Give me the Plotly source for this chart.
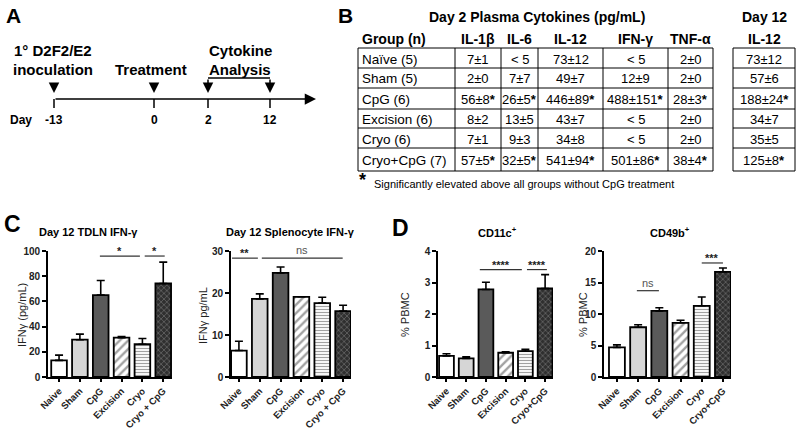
import plotly.graph_objects as go

# ---------------- data ----------------
timeline_days = [-13, 0, 2, 12]
timeline_events = ["1° D2F2/E2|inoculation", "Treatment", "Cytokine|Analysis"]

table_title = "Day 2 Plasma Cytokines (pg/mL)"
table_day12_title = "Day 12"
table_group_header = "Group (n)"
table_headers = ["IL-1β", "IL-6", "IL-12", "IFN-γ", "TNF-α"]
table_day12_header = "IL-12"
table_groups = ["Naïve (5)", "Sham (5)", "CpG (6)", "Excision (6)", "Cryo (6)", "Cryo+CpG (7)"]
il1b = ["7±1", "2±0", "56±8*", "8±2", "7±1", "57±5*"]
il6 = ["< 5", "7±7", "26±5*", "13±5", "9±3", "32±5*"]
il12 = ["73±12", "49±7", "446±89*", "43±7", "34±8", "541±94*"]
ifng = ["< 5", "12±9", "488±151*", "< 5", "< 5", "501±86*"]
tnfa = ["2±0", "2±0", "28±3*", "2±0", "2±0", "38±4*"]
il12_day12 = ["73±12", "57±6", "188±24*", "34±7", "35±5", "125±8*"]
footnote = "Significantly elevated above all groups without CpG treatment"

categories_c = ["Naive", "Sham", "CpG", "Excision", "Cryo", "Cryo + CpG"]
categories_d = ["Naive", "Sham", "CpG", "Excision", "Cryo", "Cryo+CpG"]

tdln_ifng = [13.2, 29.6, 65.0, 31.2, 26.0, 74.2]
tdln_ifng_err = [4.2, 4.4, 11.6, 1.0, 4.6, 17.0]
spleno_ifng = [6.3, 18.6, 24.8, 19.1, 17.6, 15.7]
spleno_ifng_err = [2.2, 1.2, 1.4, 0.0, 1.4, 1.4]
cd11c = [0.67, 0.59, 2.78, 0.77, 0.82, 2.81]
cd11c_err = [0.07, 0.05, 0.23, 0.03, 0.06, 0.44]
cd49b = [4.7, 7.9, 10.5, 8.6, 11.3, 16.7]
cd49b_err = [0.4, 0.4, 0.5, 0.4, 1.4, 0.6]

# significance comparisons: (from group index, to group index, level, label)
tdln_sig = [(1.96, 3.88, 96, "*"), (4.11, 5.07, 96, "*")]
spleno_sig = [(-0.33, 0.91, 28.3, "**"), (1.10, 4.98, 28.3, "ns")]
cd11c_sig = [(1.69, 3.82, 3.41, "****"), (4.08, 5.09, 3.41, "****")]
cd49b_sig = [(0.94, 1.98, 13.7, "ns"), (4.0, 5.0, 18.1, "***")]

# ---------------- helpers ----------------
W, H = 800, 429
FONT = "Liberation Sans, Arial, sans-serif"


def X(px):
    return px / W


def Y(py):
    return 1 - py / H


annotations = []
shapes = []


def text(x, y, s, size=14, bold=False, color="black", xanchor="center",
         yanchor="middle", angle=0):
    annotations.append(dict(
        x=X(x), y=Y(y), xref="paper", yref="paper", text=s, showarrow=False,
        font=dict(family=FONT, size=size, color=color,
                  weight="bold" if bold else "normal"),
        xanchor=xanchor, yanchor=yanchor, textangle=angle, borderpad=0))


def pline(x0, y0, x1, y1, width=1.0, color="black"):
    shapes.append(dict(type="line", xref="paper", yref="paper",
                       x0=X(x0), y0=Y(y0), x1=X(x1), y1=Y(y1),
                       line=dict(color=color, width=width)))


def arrow(x_tip, y_tip, dx, dy, size=1.4, width=1.5):
    annotations.append(dict(
        x=X(x_tip), y=Y(y_tip), xref="paper", yref="paper", text="",
        showarrow=True, ax=dx, ay=dy, axref="pixel", ayref="pixel",
        arrowhead=2, arrowsize=size, arrowwidth=width, arrowcolor="black"))


# ---------------- panel A: timeline schematic ----------------
text(13, 15, "A", 21, True)
tl_x = [54, 154, 208, 270]
tl_y = 99
arrow(316, tl_y, -(316 - tl_x[0]), 0, size=1.5, width=1.5)
for xp, d in zip(tl_x, timeline_days):
    pline(xp, tl_y, xp, tl_y + 9, 1.5)
    text(xp, 120, str(d), 12, True)
text(21, 120, "Day", 12, True)
arrow(tl_x[0], 93, 0, -11)
arrow(tl_x[1], 93, 0, -11)
arrow(tl_x[2], 93, 0, -15)
arrow(tl_x[3], 93, 0, -15)
pline(tl_x[2], 78, tl_x[3], 78, 1.5)
ev_x = [53, 151, 240]
for ex, ev in zip(ev_x, timeline_events):
    parts = ev.split("|")
    if len(parts) == 2:
        text(ex, 51, parts[0], 15, True)
        text(ex, 69, parts[1], 15, True)
    else:
        text(ex, 69, parts[0], 15, True)

# ---------------- panel B: cytokine table ----------------
text(345, 15, "B", 21, True)
text(537, 17, table_title, 14, True)
text(764, 17, table_day12_title, 14, True)
col_x = [358, 455, 501, 538, 603, 668, 713]
row_y = [48, 68, 88, 109, 128, 148, 171]
d12_x = [733, 795]
header_y = 39
text(361, header_y, table_group_header, 14, True, xanchor="left")
for i, h in enumerate(table_headers):
    text((col_x[i + 1] + col_x[i + 2]) / 2, header_y, h, 14, True)
text((d12_x[0] + d12_x[1]) / 2, header_y, table_day12_header, 14, True)


def cell(s):
    return s.replace("*", "<b>*</b>")


CELL = 13
columns = [il1b, il6, il12, ifng, tnfa]
for r, g in enumerate(table_groups):
    yc = (row_y[r] + row_y[r + 1]) / 2 + 1
    text(361, yc, g, CELL + 0.5, xanchor="left")
    for c, col in enumerate(columns):
        text((col_x[c + 1] + col_x[c + 2]) / 2, yc, cell(col[r]), CELL)
    text((d12_x[0] + d12_x[1]) / 2, yc, cell(il12_day12[r]), CELL)
for yy in row_y:
    pline(col_x[0], yy, col_x[-1], yy, 1)
    pline(d12_x[0], yy, d12_x[1], yy, 1)
for xx in col_x:
    pline(xx, row_y[0], xx, row_y[-1], 1)
for xx in d12_x:
    pline(xx, row_y[0], xx, row_y[-1], 1)
text(362, 180, "<b>*</b>", 18)
text(373, 184, footnote, 11, xanchor="left")

# ---------------- panels C & D: bar charts ----------------
text(12, 224, "C", 23, True)
text(400, 228, "D", 23, True)

pattern_shape = ["", "", "", "/", "-", "x"]
bar_bg = ["white", "#d6d6d6", "#5a5a5a", "white", "white", "#2f2f2f"]
pattern_fg = ["black", "black", "black", "black", "#444444", "#8a8a8a"]
pattern_size = [6, 6, 6, 6, 3, 4]
pattern_sol = [0.3, 0.3, 0.3, 0.4, 0.4, 0.2]

Y_TOP, Y_BOT = 251, 377

charts = [
    (1, categories_c, tdln_ifng, tdln_ifng_err, tdln_sig, 100, 20, (-0.53, 5.42), (48, 172),
     "Day 12 TDLN IFN-γ", 88, "IFNγ (pg/mL)", 22),
    (2, categories_c, spleno_ifng, spleno_ifng_err, spleno_sig, 30, 10, (-0.38, 5.38), (231, 351),
     "Day 12 Splenocyte IFN-γ", 290, "IFNγ pg/mL", 203),
    (3, categories_d, cd11c, cd11c_err, cd11c_sig, 4, 1, (-0.43, 5.40), (438, 553),
     "CD11c<sup>+</sup>", 497, "% PBMC", 405),
    (4, categories_d, cd49b, cd49b_err, cd49b_sig, 20, 5, (-0.61, 5.38), (604, 731),
     "CD49b<sup>+</sup>", 670, "% PBMC", 583),
]

fig = go.Figure()
layout_axes = {}
for (k, cats, vals, errs, sig, ymax, dtick, xr, dom, title, tx, ytitle, ytx) in charts:
    xa = "x" if k == 1 else f"x{k}"
    ya = "y" if k == 1 else f"y{k}"
    fig.add_trace(go.Bar(
        x=list(range(len(cats))), y=vals, xaxis=xa, yaxis=ya, width=0.75,
        marker=dict(color=bar_bg, line=dict(color="black", width=1.8),
                    pattern=dict(shape=pattern_shape, fgcolor=pattern_fg,
                                 bgcolor=bar_bg, size=pattern_size,
                                 solidity=pattern_sol)),
        error_y=dict(type="data", symmetric=False, array=errs,
                     arrayminus=[0] * len(errs), color="black",
                     thickness=1.6, width=4),
        showlegend=False, hoverinfo="skip"))
    axis_common = dict(showline=True, linecolor="black", linewidth=1.6,
                       ticks="outside", ticklen=4, tickwidth=1.5,
                       tickcolor="black", showgrid=False, zeroline=False,
                       automargin=False,
                       tickfont=dict(family=FONT, size=10, color="#222222",
                                     weight="bold"))
    xcommon = dict(axis_common)
    xcommon["tickfont"] = dict(family=FONT, size=9.5, color="#222222", weight="bold")
    xcommon["ticklen"] = 3
    layout_axes["xaxis" if k == 1 else f"xaxis{k}"] = dict(
        xcommon, domain=[X(dom[0]), X(dom[1])], range=list(xr),
        anchor=ya, tickmode="array", tickvals=list(range(len(cats))),
        ticktext=cats, tickangle=-45)
    layout_axes["yaxis" if k == 1 else f"yaxis{k}"] = dict(
        axis_common, domain=[Y(Y_BOT), Y(Y_TOP)], range=[0, ymax],
        dtick=dtick, tick0=0, anchor=xa)
    text(tx, 232, title, 11, True)
    text(ytx, 315, ytitle, 11, angle=-90, color="#222222")
    for (a, b, lvl, lab) in sig:
        shapes.append(dict(type="line", xref=xa, yref=ya, x0=a, x1=b,
                           y0=lvl, y1=lvl, line=dict(color="#333333", width=1.2)))
        is_ns = lab == "ns"
        annotations.append(dict(
            x=(a + b) / 2, y=lvl, xref=xa, yref=ya, text=lab, showarrow=False,
            yanchor="bottom", yshift=-3 if not is_ns else 0,
            font=dict(family=FONT, size=11,
                      color="#555555" if is_ns else "#222222",
                      weight="normal" if is_ns else "bold")))

fig.update_layout(
    width=W, height=H, margin=dict(l=0, r=0, t=0, b=0, autoexpand=False),
    paper_bgcolor="white", plot_bgcolor="white",
    bargap=0.25, annotations=annotations, shapes=shapes,
    font=dict(family=FONT), **layout_axes)

fig.write_html("out.html", config={"displayModeBar": False},
               post_script="document.body.style.margin='0';")
